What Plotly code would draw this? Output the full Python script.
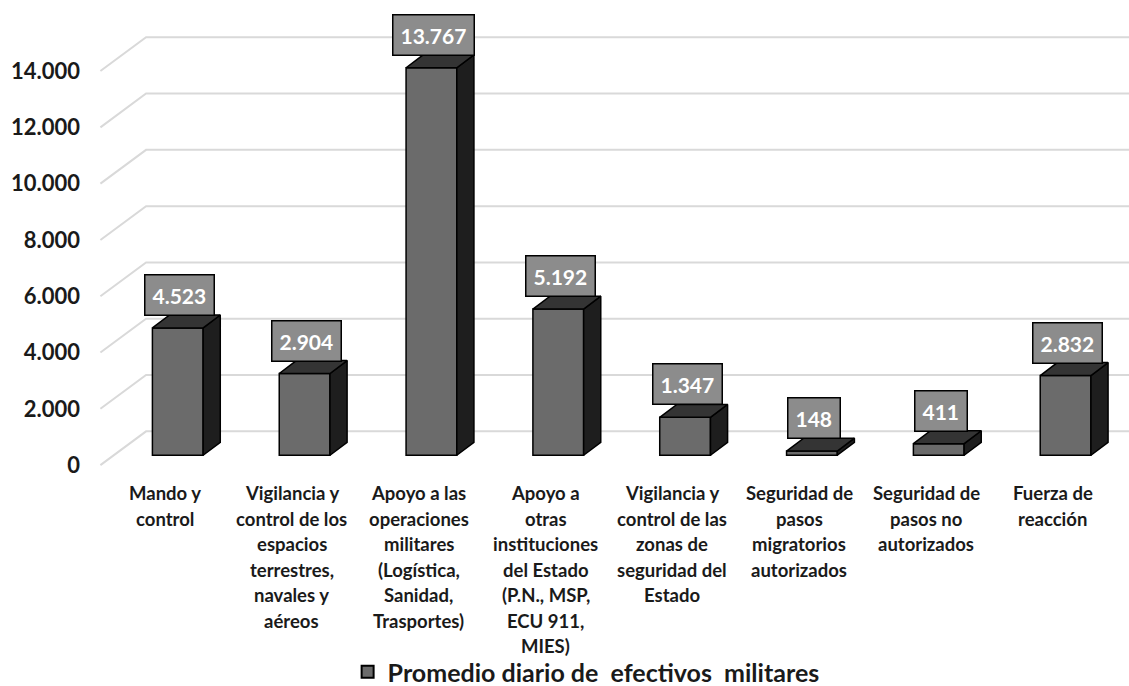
import plotly.graph_objects as go

categories = [
    "Mando y<br>control",
    "Vigilancia y<br>control de los<br>espacios<br>terrestres,<br>navales y<br>aéreos",
    "Apoyo a las<br>operaciones<br>militares<br>(Logística,<br>Sanidad,<br>Trasportes)",
    "Apoyo a<br>otras<br>instituciones<br>del Estado<br>(P.N., MSP,<br>ECU 911,<br>MIES)",
    "Vigilancia y<br>control de las<br>zonas de<br>seguridad del<br>Estado",
    "Seguridad de<br>pasos<br>migratorios<br>autorizados",
    "Seguridad de<br>pasos no<br>autorizados",
    "Fuerza de<br>reacción",
]
values = [4523, 2904, 13767, 5192, 1347, 148, 411, 2832]
y_ticks = [0, 2000, 4000, 6000, 8000, 10000, 12000, 14000]
series_name = "Promedio diario de\u00a0 efectivos\u00a0 militares"

# ---- style / geometry constants ----
FONT = "Lato"
FRONT = "#6b6b6b"
SIDE = "#1e1e1e"
TOP = "#343434"
LABEL_BG = "#8c8c8c"
GRID = "#d9d9d9"
X_RANGE = [-0.6, 7.6]
Y_RANGE = [-600, 15600]
WALL_X0, WALL_DX, WALL_DY = -0.51, 0.36, 1200   # back wall depth
BAR_DX, BAR_BASE = 0.10, 350                     # bar front-face depth shift
BAR_W = 0.40
DEPTH_DX, DEPTH_DY = 0.135, 460                  # bar depth

def fmt(v):
    return f"{v:,}".replace(",", ".")

fig = go.Figure()

# back-wall gridlines (drawn below the bars)
shapes = []
for t in y_ticks:
    path = (f"M {WALL_X0},{t} L {WALL_X0 + WALL_DX},{t + WALL_DY} "
            f"L {X_RANGE[1]},{t + WALL_DY}")
    shapes.append(dict(type="path", path=path, xref="x", yref="y", layer="below",
                       line=dict(color=GRID, width=2)))

idx = list(range(len(values)))
xc = [i + BAR_DX for i in idx]

# front faces
fig.add_trace(go.Bar(
    x=xc, y=values, base=[BAR_BASE] * len(values), width=BAR_W,
    marker=dict(color=FRONT, line=dict(color="#000000", width=1.5)),
    name=series_name, showlegend=True, hoverinfo="skip",
))

# side & top faces
sx, sy, tx, ty = [], [], [], []
for x, v in zip(xc, values):
    r = x + BAR_W / 2
    l = x - BAR_W / 2
    b = BAR_BASE
    h = BAR_BASE + v
    sx += [r, r + DEPTH_DX, r + DEPTH_DX, r, r, None]
    sy += [b, b + DEPTH_DY, h + DEPTH_DY, h, b, None]
    tx += [l, r, r + DEPTH_DX, l + DEPTH_DX, l, None]
    ty += [h, h, h + DEPTH_DY, h + DEPTH_DY, h, None]
fig.add_trace(go.Scatter(x=sx, y=sy, mode="lines", fill="toself", fillcolor=SIDE,
                         line=dict(color="#000000", width=1.5), hoverinfo="skip",
                         showlegend=False))
fig.add_trace(go.Scatter(x=tx, y=ty, mode="lines", fill="toself", fillcolor=TOP,
                         line=dict(color="#000000", width=1.5), hoverinfo="skip",
                         showlegend=False))

annotations = []
# value labels
for x, v in zip(xc, values):
    annotations.append(dict(
        x=x + 0.015, y=BAR_BASE + v, xref="x", yref="y", text=fmt(v),
        showarrow=False, yanchor="middle", yshift=33,
        font=dict(family=FONT, size=21, color="#ffffff", weight="bold"),
        bgcolor=LABEL_BG, bordercolor="#000000", borderwidth=1.5, borderpad=7,
    ))
# category labels (line by line)
for i, cat in zip(idx, categories):
    for j, line in enumerate(cat.split("<br>")):
        annotations.append(dict(
            x=i, y=0, xref="x", yref="paper", text=line, showarrow=False,
            yanchor="middle", yshift=-(11 + 25.5 * j),
            font=dict(family=FONT, size=18.5, color="#1a1a1a", weight="bold"),
        ))

fig.update_layout(
    width=1129, height=686,
    margin=dict(l=89, r=0, t=26, b=204, autoexpand=False),
    paper_bgcolor="#ffffff", plot_bgcolor="#ffffff",
    barmode="overlay",
    xaxis=dict(range=X_RANGE, showgrid=False, zeroline=False, showline=False,
               showticklabels=False, ticks=""),
    yaxis=dict(range=Y_RANGE, tickvals=y_ticks, ticktext=[fmt(t) for t in y_ticks],
               showgrid=False, zeroline=False, showline=False, ticks="",
               ticklabelstandoff=8,
               tickfont=dict(family=FONT, size=22, color="#1a1a1a", weight="bold")),
    legend=dict(orientation="h", x=0.478, xanchor="center", y=-0.4167, yanchor="middle",
                font=dict(family=FONT, size=25, color="#1a1a1a", weight="bold"),
                itemsizing="constant"),
    shapes=shapes,
    annotations=annotations,
    showlegend=True,
)

fig.write_html("out.html")
